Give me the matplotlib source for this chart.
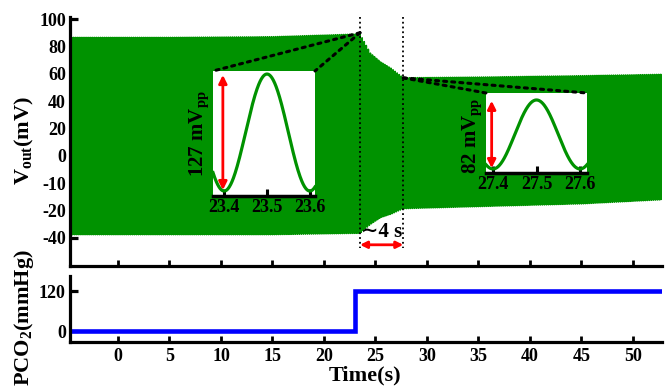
import numpy as np
import matplotlib
matplotlib.use("Agg")
import matplotlib.pyplot as plt
from matplotlib.patches import ConnectionPatch

plt.rcParams['font.family'] = ['Liberation Serif', 'DejaVu Serif']
plt.rcParams['font.weight'] = 'bold'
plt.rcParams['mathtext.fontset'] = 'custom'
plt.rcParams['mathtext.rm'] = 'Liberation Serif:bold'
plt.rcParams['mathtext.it'] = 'Liberation Serif:bold'
plt.rcParams['mathtext.bf'] = 'Liberation Serif:bold'

# ---------------- data ----------------
# oscillation carrier (Hz) and phase reference (a minimum at this time)
carrier_hz = 5.0
phase_ref_t = 23.4
t_start, t_end = -4.7, 52.8

# envelope knots (axis units of the top panel)
env_t = [-4.7, 5.0, 15.0, 23.5, 24.5, 25.5, 26.5, 27.7, 35.0, 45.0, 52.8]
env_upper = [86.5, 86.5, 87.0, 89.0, 75.0, 68.5, 64.0, 57.0, 57.5, 58.5, 59.5]
env_lower = [-57.5, -57.5, -57.5, -56.5, -50.0, -45.0, -42.5, -38.5, -37.0, -35.0, -32.0]

# top-panel tick labels (as printed on the figure)
vout_tick_labels = ['100', '80', '60', '40', '20', '0', '-10', '-20', '-40']
vout_tick_pos = [100, 80, 60, 40, 20, 0, -20, -40, -60]

time_ticks = [0, 5, 10, 15, 20, 25, 30, 35, 40, 45, 50]

# PCO2 step
pco2_t = [-4.7, 23.0, 52.6]
pco2_v = [0, 120, 120]
pco2_ticks = [0, 120]

# insets: zoom window, peak / trough (mV)
inset1_range = (23.4, 23.6)
inset1_max, inset1_min = 87, -40      # 127 mVpp
inset2_range = (27.4, 27.6)
inset2_max, inset2_min = 57, -25      # 82 mVpp

# markers of the transition
trans_start, trans_end = 23.5, 27.7
peak_before = 90
level_after = 57

# ---------------- figure ----------------
W, H = 667, 388
fig = plt.figure(figsize=(W / 100, H / 100), dpi=100)

def px_axes(l, t, r, b):
    return fig.add_axes([l / W, 1 - b / H, (r - l) / W, (b - t) / H])

ax1 = px_axes(70, 17, 662, 266)
ax2 = px_axes(70, 276, 662, 342)

green = '#009200'

# signal
t = np.arange(t_start, t_end, 0.004)
up = np.interp(t, env_t, env_upper)
lo = np.interp(t, env_t, env_lower)
center = (up + lo) / 2
amp = (up - lo) / 2
sig = center - amp * np.cos(2 * np.pi * carrier_hz * (t - phase_ref_t))
ax1.plot(t, sig, color=green, lw=1.3)

ax1.set_xlim(-4.66, 52.82)
ax1.set_ylim(-80.5, 101.5)
ax1.set_yticks(vout_tick_pos)
ax1.set_yticklabels(vout_tick_labels)
ax1.set_xticks(time_ticks)
ax1.set_xticklabels([])

for ax in (ax1, ax2):
    for s in ('top', 'right'):
        ax.spines[s].set_visible(False)
    for s in ('left', 'bottom'):
        ax.spines[s].set_linewidth(2.3)
    ax.tick_params(axis='y', direction='in', length=6, width=2.3, labelsize=13, pad=3)
    ax.tick_params(axis='x', direction='in', length=4, width=2, labelsize=13, pad=4)

# transition markers
for xv in (trans_start, trans_end):
    ax1.plot([xv, xv], [101.5, -67.5], ls=':', color='k', lw=1.3, clip_on=False)
ax1.annotate('', xy=(trans_end, -65), xytext=(trans_start, -65),
             arrowprops=dict(arrowstyle='<|-|>', color='red', lw=2,
                             shrinkA=0, shrinkB=0, mutation_scale=10))
ax1.text((trans_start + trans_end) / 2, -56.0, '\u223c4 s', ha='center', va='center',
         fontsize=15, fontweight='bold')

# bottom panel
ax2.plot(pco2_t, pco2_v, drawstyle='steps-post', color='blue', lw=3.3,
         solid_joinstyle='miter')
ax2.set_xlim(-4.66, 52.82)
ax2.set_ylim(-33, 165)
ax2.set_yticks(pco2_ticks)
ax2.set_xticks(time_ticks)

# insets
def make_inset(l, t_, r, b, xr, vmax, vmin, ylim, xlim, label, label_xy):
    ai = px_axes(l, t_, r, b)
    ai.set_facecolor('white')
    tt = np.linspace(xlim[0], xlim[1], 300)
    c = (vmax + vmin) / 2
    a = (vmax - vmin) / 2
    ai.plot(tt, c - a * np.cos(2 * np.pi * carrier_hz * (tt - xr[0])),
            color=green, lw=2.3)
    ai.set_xlim(*xlim)
    ai.set_ylim(*ylim)
    for s in ('top', 'right', 'left'):
        ai.spines[s].set_visible(False)
    ai.spines['bottom'].set_linewidth(2.5)
    ai.set_yticks([])
    ticks = [xr[0], (xr[0] + xr[1]) / 2, xr[1]]
    ai.set_xticks(ticks)
    ai.set_xticklabels([f'{v:.1f}' for v in ticks])
    ai.tick_params(axis='x', direction='in', length=5, width=2.2, labelsize=13, pad=2)
    ai.annotate('', xy=(xr[0] - 0.003, vmax - 1), xytext=(xr[0] - 0.003, vmin + 1),
                arrowprops=dict(arrowstyle='<|-|>', color='red', lw=2,
                                shrinkA=0, shrinkB=0, mutation_scale=12))
    fig.text(label_xy[0] / W, 1 - label_xy[1] / H, label, rotation=90,
             ha='center', va='center', fontsize=15, fontweight='bold')
    return ai

in1 = make_inset(213, 71, 315, 196, inset1_range, inset1_max, inset1_min,
                 (-45.4, 90.3), (23.374, 23.612), r'127 mV$_{\mathrm{pp}}$', (199, 134))
in2 = make_inset(486, 93, 587, 173, inset2_range, inset2_max, inset2_min,
                 (-29.8, 65.3), (27.384, 27.616), r'82 mV$_{\mathrm{pp}}$', (472, 136))

for ai, pt in ((in1, (trans_start, peak_before)), (in2, (trans_end, level_after))):
    for corner in ((0, 1), (1, 1)):
        cp = ConnectionPatch(xyA=pt, coordsA='data', axesA=ax1,
                             xyB=corner, coordsB='axes fraction', axesB=ai,
                             ls=':', color='k', lw=2.2)
        fig.add_artist(cp)

# axis labels
fig.text(24 / W, 1 - 141 / H, r'V$_{\mathrm{out}}$(mV)', rotation=90,
         ha='center', va='center', fontsize=16, fontweight='bold')
fig.text(24 / W, 1 - 318 / H, r'PCO$_{\mathrm{2}}$(mmHg)', rotation=90,
         ha='center', va='center', fontsize=16, fontweight='bold')
fig.text(365 / W, 1 - 375 / H, 'Time(s)', ha='center', va='center',
         fontsize=16, fontweight='bold')

fig.savefig('out.png', dpi=100)
